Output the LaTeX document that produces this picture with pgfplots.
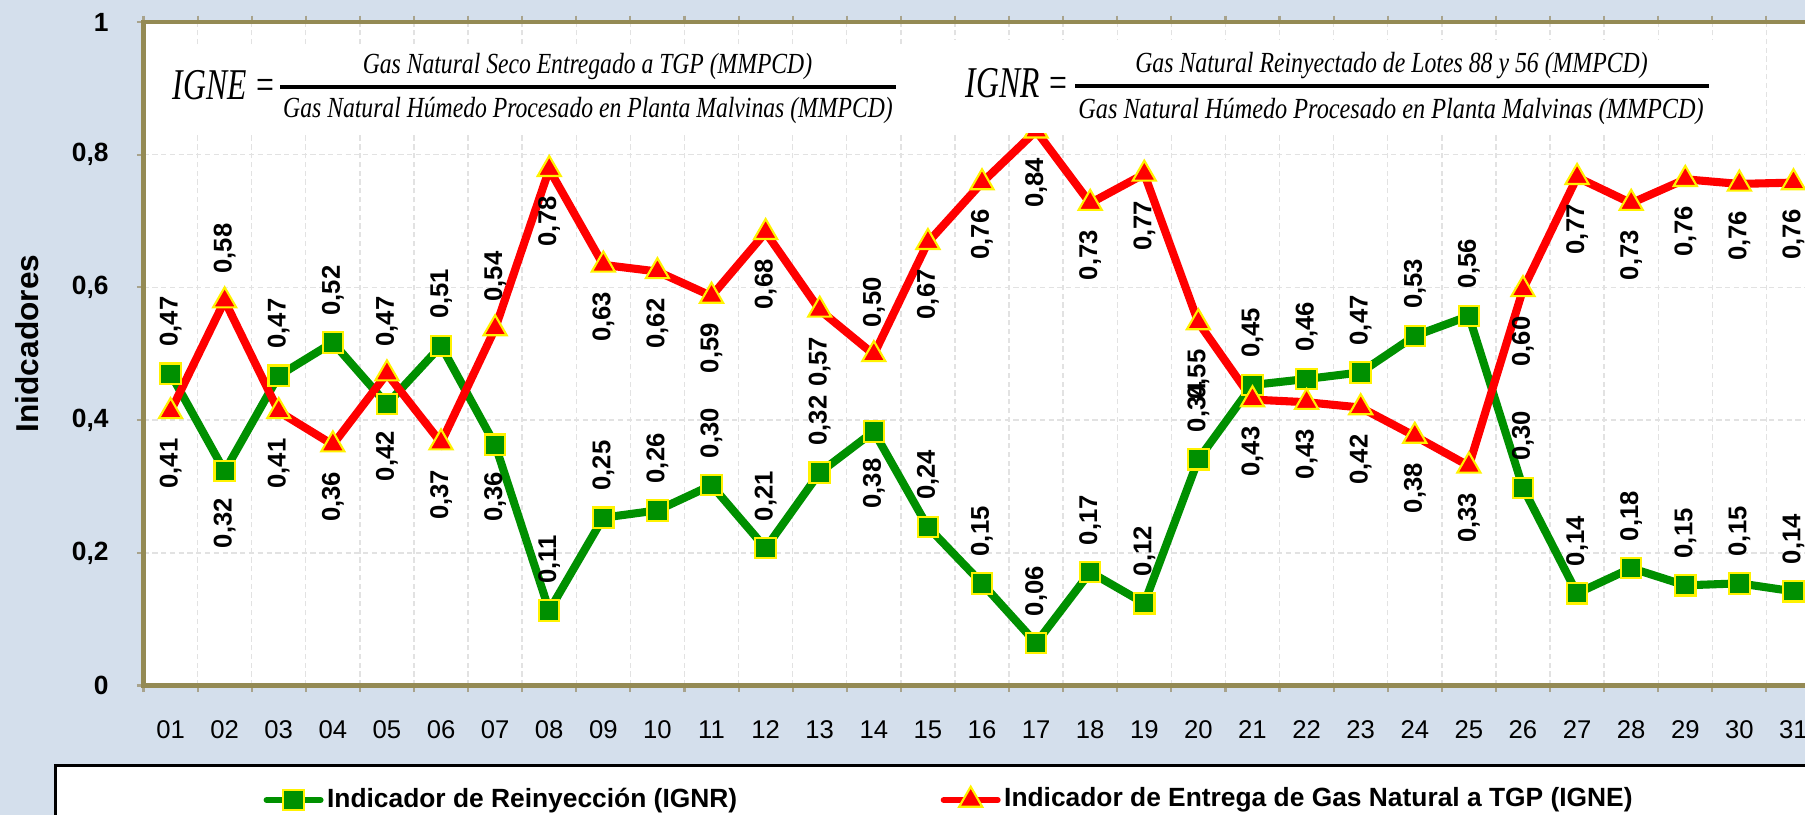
\documentclass[border=0pt]{standalone}
\usepackage{pgfplots}
\pgfplotsset{compat=1.18}
\usepackage{pgfplotstable}
\usepackage{graphicx}
\usepackage{fontspec}
\setmainfont{Liberation Sans}
\newfontfamily\formfont{Liberation Serif}
\definecolor{bgblue}{HTML}{D4DFEC}
\definecolor{axolive}{HTML}{948A54}
\definecolor{tickolive}{HTML}{A8A38C}
\definecolor{sgreen}{HTML}{009000}
\definecolor{gridgray}{HTML}{E2E2E2}
\pgfplotstableread{
x ignr igne
1 0.470 0.413
2 0.323 0.580
3 0.467 0.413
4 0.517 0.363
5 0.424 0.470
6 0.512 0.366
7 0.363 0.538
8 0.113 0.778
9 0.253 0.634
10 0.264 0.624
11 0.302 0.587
12 0.207 0.683
13 0.321 0.566
14 0.383 0.499
15 0.239 0.668
16 0.154 0.758
17 0.064 0.836
18 0.171 0.727
19 0.124 0.771
20 0.341 0.547
21 0.453 0.431
22 0.462 0.427
23 0.472 0.419
24 0.527 0.376
25 0.557 0.331
26 0.298 0.597
27 0.139 0.766
28 0.177 0.727
29 0.151 0.763
30 0.154 0.756
31 0.142 0.758
}\datatable
\pgfplotsset{
  lbl/.style={draw=none, mark=none, forget plot,
    nodes near coords={\pgfmathprintnumber[fixed, fixed zerofill, precision=2, use comma, assume math mode=true]{\pgfplotspointmeta}},
    point meta=explicit,
    every node near coord/.append style={font=\bfseries\fontsize{7.3}{8}\selectfont, text=black, rotate=90, anchor=#1, inner xsep=7.5pt, inner ysep=0pt},
  },
  % the four days where the red series is labelled above and the green one below
  setA/.style={skip coords between index={1}{2}, skip coords between index={4}{5},
    skip coords between index={6}{7}, skip coords between index={13}{14}},
  setB/.style={skip coords between index={0}{1}, skip coords between index={2}{4},
    skip coords between index={5}{6}, skip coords between index={7}{13}, skip coords between index={14}{31}},
  gstyle/.style={sgreen, line width=2.3pt, mark=square*, mark size=2.9pt,
    mark options={fill=sgreen, draw=yellow, line width=0.6pt, solid}},
  rstyle/.style={red, line width=2.3pt, mark=triangle*, mark size=3.8pt,
    mark options={fill=red, draw=yellow, line width=0.6pt, solid}},
}
\begin{document}
\begin{tikzpicture}
\fill[bgblue] (0,0) rectangle (18.05,8.15);
\draw[black, line width=1pt, fill=white] (0.557,-0.5) rectangle (19,0.493);
\begin{axis}[
  at={(1.435cm,1.2945cm)}, anchor=south west,
  scale only axis, width=16.77cm, height=6.635cm,
  xmin=0.5, xmax=31.5, ymin=0, ymax=1,
  axis background/.style={fill=white},
  axis line style={axolive, line width=1.4pt},
  xtick={0.5,1.5,...,31.5}, xticklabels={},
  extra x ticks={1,2,...,31},
  extra x tick labels={01,02,03,04,05,06,07,08,09,10,11,12,13,14,15,16,17,18,19,20,21,22,23,24,25,26,27,28,29,30,31},
  extra x tick style={grid=none, major tick length=0pt},
  xmajorgrids, ymajorgrids,
  grid style={gridgray, dash pattern=on 1.5pt off 1pt, line width=0.4pt},
  ytick={0,0.2,0.4,0.6,0.8,1}, yticklabels={0,{0,2},{0,4},{0,6},{0,8},1},
  tick align=outside, major tick length=0.65mm,
  tick style={tickolive, line width=0.6pt},
  x tick label style={font=\fontsize{7.3}{9}\selectfont, yshift=-2.3mm},
  y tick label style={font=\bfseries\fontsize{7.5}{9}\selectfont, xshift=-1.6mm},
  ylabel={Inidcadores},
  ylabel style={at={(axis description cs:-0.0695,0.5154)}, anchor=center, font=\bfseries\fontsize{9}{11}\selectfont},
  legend style={at={(0.0712,-0.1726)}, anchor=west, draw=none, fill=none, inner sep=0pt,
    font=\bfseries\fontsize{7.5}{9}\selectfont,
    nodes={inner xsep=1pt},
    /tikz/every even column/.append style={column sep=2.0cm}},
  legend columns=2,
  legend image code/.code={\draw[line width=1.7pt, line cap=round, mark repeat=2,mark phase=2] plot coordinates {(0cm,0cm) (0.27cm,0cm) (0.54cm,0cm)};},
]
\addplot[gstyle] table[x=x, y=ignr] {\datatable};
\addlegendentry{Indicador de Reinyección (IGNR)}
\addplot[rstyle] table[x=x, y=igne] {\datatable};
\addlegendentry{Indicador de Entrega de Gas Natural a TGP (IGNE)}
% value labels
\addplot[lbl=west, setA] table[x=x, y=ignr, meta=ignr] {\datatable};
\addplot[lbl=east, setB] table[x=x, y=ignr, meta=ignr] {\datatable};
\addplot[lbl=east, setA] table[x=x, y=igne, meta=igne] {\datatable};
\addplot[lbl=west, setB] table[x=x, y=igne, meta=igne] {\datatable};
\end{axis}
% formula boxes
\fill[white] (1.65,7.70) rectangle (9.08,6.82);
\fill[white] (9.50,7.75) rectangle (17.15,6.82);
\node[anchor=base west, inner sep=0] at (1.72,7.15) {\scalebox{0.72}[1]{\formfont\itshape\fontsize{12.5}{14}\selectfont IGNE =}};
\draw[line width=0.9pt] (2.80,7.28) -- (8.96,7.28);
\node[anchor=base, inner sep=0] at (5.875,7.41) {\scalebox{0.81}[1]{\formfont\itshape\fontsize{8.3}{10}\selectfont Gas Natural Seco Entregado a TGP (MMPCD)}};
\node[anchor=base, inner sep=0] at (5.88,6.97) {\scalebox{0.811}[1]{\formfont\itshape\fontsize{8.3}{10}\selectfont Gas Natural Húmedo Procesado en Planta Malvinas (MMPCD)}};
\node[anchor=base west, inner sep=0] at (9.65,7.17) {\scalebox{0.72}[1]{\formfont\itshape\fontsize{12.5}{14}\selectfont IGNR =}};
\draw[line width=0.9pt] (10.75,7.29) -- (17.09,7.29);
\node[anchor=base, inner sep=0] at (13.915,7.42) {\scalebox{0.815}[1]{\formfont\itshape\fontsize{8.3}{10}\selectfont Gas Natural Reinyectado de Lotes 88 y 56 (MMPCD)}};
\node[anchor=base, inner sep=0] at (13.91,6.96) {\scalebox{0.832}[1]{\formfont\itshape\fontsize{8.3}{10}\selectfont Gas Natural Húmedo Procesado en Planta Malvinas (MMPCD)}};
\pgfresetboundingbox
\path[use as bounding box] (0,0) rectangle (18.05,8.15);
\end{tikzpicture}
\end{document}
